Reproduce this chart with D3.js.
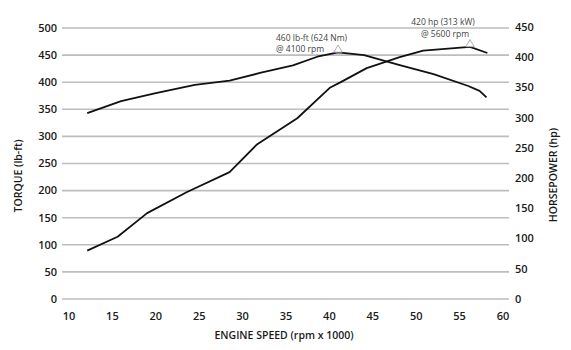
<!DOCTYPE html>
<html><head><meta charset="utf-8">
<script src="https://cdn.jsdelivr.net/npm/d3@7"></script>
<style>body{margin:0;background:#fff}svg{display:block}</style>
</head><body>
<svg id="c" width="571" height="350"></svg>
<script>
const xTicks = [10,15,20,25,30,35,40,45,50,55,60];
const torqueTicks = [0,50,100,150,200,250,300,350,400,450,500];
const hpTicks = [0,50,100,150,200,250,300,350,400,450];
const torqueRpm = [12.1,16,20,24.5,28.5,32,35.8,38.6,41,44,48,52,56,57.3,58.1];
const torqueVal = [343,365,380,395,403,417,431,447,455,450,432,415,393,384,372];
const hpRpm = [12.1,15.6,19,23.6,28.5,31.6,36.3,40.1,41.2,44.3,48.1,50.8,56.2,58.2];
const hpVal = [80,103,142,177,210,255,299,350,358,382,400,411,417,407];
const peaks = [
  {series:"torque", rpm:41, val:455, lines:["460 lb-ft (624 Nm)","@ 4100 rpm"]},
  {series:"hp", rpm:56.2, val:417, lines:["420 hp (313 kW)","@ 5600 rpm"]}
];

const svg = d3.select("#c");
const font = "'Open Sans', 'Liberation Sans', sans-serif";
const x = d3.scaleLinear().domain([10,60]).range([69,503]);
const yL = d3.scaleLinear().domain([0,500]).range([299,28]);
const yR = d3.scaleLinear().domain([0,450]).range([299,27]);
const gridX0 = 62, gridX1 = 509;

// grid
svg.append("g").selectAll("line").data(torqueTicks).join("line")
  .attr("x1",gridX0).attr("x2",gridX1)
  .attr("y1",d=>yL(d)).attr("y2",d=>yL(d))
  .attr("stroke","#bdbdbd").attr("stroke-width",1.6);

// left ticks
svg.append("g").selectAll("text").data(torqueTicks).join("text")
  .attr("x",57).attr("y",d=>yL(d)).attr("dy","0.35em")
  .attr("text-anchor","end").attr("font-family",font).attr("font-weight",600)
  .attr("font-size",11).attr("fill","#1a1a1a").text(d=>d);
// right ticks
svg.append("g").selectAll("text").data(hpTicks).join("text")
  .attr("x",515).attr("y",d=>yR(d)).attr("dy","0.35em")
  .attr("text-anchor","start").attr("font-family",font).attr("font-weight",600)
  .attr("font-size",11).attr("fill","#1a1a1a").text(d=>d);
// x ticks
svg.append("g").selectAll("text").data(xTicks).join("text")
  .attr("x",d=>x(d)).attr("y",316).attr("dy","0.35em")
  .attr("text-anchor","middle").attr("font-family",font).attr("font-weight",600)
  .attr("font-size",11).attr("fill","#1a1a1a").text(d=>d);

// titles
svg.append("text").attr("x",284).attr("y",339).attr("text-anchor","middle")
  .attr("font-family",font).attr("font-weight",600).attr("font-size",10.5)
  .attr("fill","#1a1a1a").text("ENGINE SPEED (rpm x 1000)");
svg.append("text").attr("transform","translate(21.5,176) rotate(-90)").attr("text-anchor","middle")
  .attr("font-family",font).attr("font-weight",600).attr("font-size",10.5)
  .attr("fill","#1a1a1a").text("TORQUE (lb-ft)");
svg.append("text").attr("transform","translate(557,175) rotate(-90)").attr("text-anchor","middle")
  .attr("font-family",font).attr("font-weight",600).attr("font-size",10.5)
  .attr("fill","#1a1a1a").text("HORSEPOWER (hp)");

// lines
const tData = torqueRpm.map((r,i)=>[r,torqueVal[i]]);
const hData = hpRpm.map((r,i)=>[r,hpVal[i]]);
svg.append("path").datum(tData)
  .attr("d",d3.line().x(d=>x(d[0])).y(d=>yL(d[1])))
  .attr("fill","none").attr("stroke","#111").attr("stroke-width",1.8).attr("stroke-linejoin","round");
svg.append("path").datum(hData)
  .attr("d",d3.line().x(d=>x(d[0])).y(d=>yR(d[1])))
  .attr("fill","none").attr("stroke","#111").attr("stroke-width",1.8).attr("stroke-linejoin","round");

// peak markers
peaks.forEach(p=>{
  const px = x(p.rpm), py = (p.series==="torque"?yL:yR)(p.val);
  svg.append("path").attr("d",d3.symbol(d3.symbolTriangle,30)())
    .attr("transform",`translate(${px},${py-2.6})`)
    .attr("fill","#fff").attr("stroke","#999").attr("stroke-width",0.8);
});
// annotations
const ann = svg.append("g").attr("font-family",font).attr("font-size",8.5).attr("fill","#444");
ann.append("text").attr("x",276).attr("y",41).text(peaks[0].lines[0]);
ann.append("text").attr("x",276).attr("y",52).text(peaks[0].lines[1]);
ann.append("text").attr("x",443).attr("y",25).attr("text-anchor","middle").text(peaks[1].lines[0]);
ann.append("text").attr("x",445).attr("y",37).attr("text-anchor","middle").text(peaks[1].lines[1]);
</script>
</body></html>
